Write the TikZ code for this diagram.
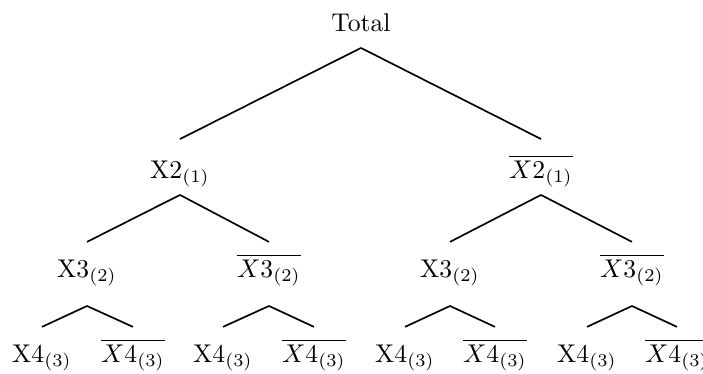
\documentclass[tikz,border=0pt]{standalone}
\begin{document}
\begin{tikzpicture}[x=0.39pt,y=-0.39pt,
  nd/.style={anchor=base,inner sep=0pt,outer sep=0pt},
  l0/.style={nd,text height=7pt,text depth=6.6pt},
  l1/.style={nd,text height=15.2pt,text depth=6.6pt},
  l2/.style={nd,text height=13.7pt,text depth=11.3pt},
  l3/.style={nd,text height=13.7pt,text depth=3pt},
  edge/.style={line width=0.65pt}]
\useasboundingbox (0,0) rectangle (703,373);
\node[l0] (r) at (361,31) {Total};
\node[l1] (a) at (180,178) {$\mathrm{X2}_{(1)}$};
\node[l1] (b) at (541,178) {$\overline{X2_{(1)}}$};
\node[l2] (aa) at (87,277) {$\mathrm{X3}_{(2)}$};
\node[l2] (ab) at (269,277) {$\overline{X3_{(2)}}$};
\node[l2] (ba) at (450,277) {$\mathrm{X3}_{(2)}$};
\node[l2] (bb) at (632,277) {$\overline{X3_{(2)}}$};
\node[l3] (aaa) at (42,362) {$\mathrm{X4}_{(3)}$};
\node[l3] (aab) at (133,362) {$\overline{X4_{(3)}}$};
\node[l3] (aba) at (223,362) {$\mathrm{X4}_{(3)}$};
\node[l3] (abb) at (314,362) {$\overline{X4_{(3)}}$};
\node[l3] (baa) at (405,362) {$\mathrm{X4}_{(3)}$};
\node[l3] (bab) at (495,362) {$\overline{X4_{(3)}}$};
\node[l3] (bba) at (587,362) {$\mathrm{X4}_{(3)}$};
\node[l3] (bbb) at (677,362) {$\overline{X4_{(3)}}$};
\foreach \p/\c in {r/a,r/b,a/aa,a/ab,b/ba,b/bb,aa/aaa,aa/aab,ab/aba,ab/abb,ba/baa,ba/bab,bb/bba,bb/bbb}
  \draw[edge] (\p.south) -- (\c.north);
\end{tikzpicture}
\end{document}
